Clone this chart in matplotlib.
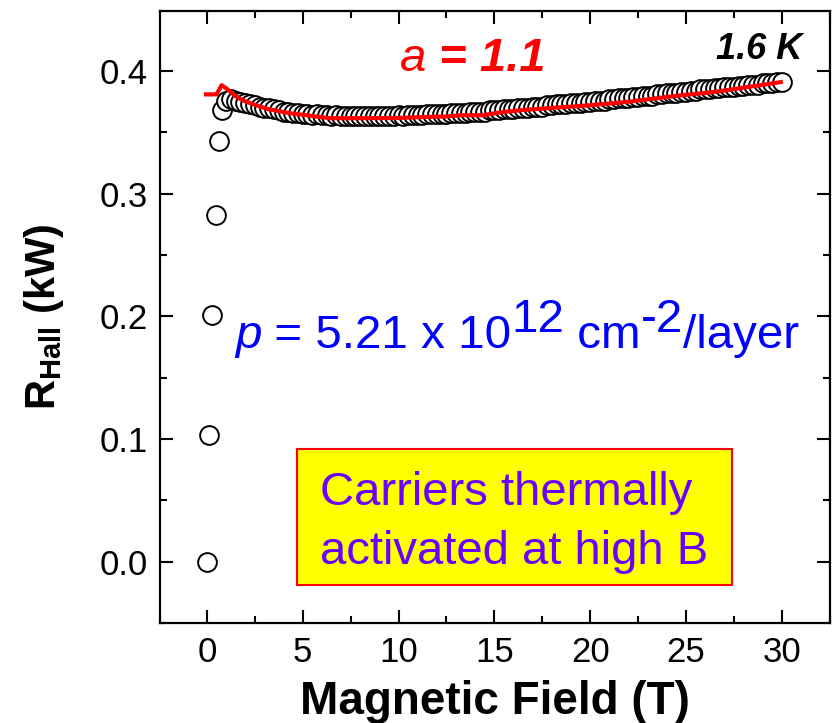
import numpy as np
import matplotlib.pyplot as plt
from matplotlib.patches import Rectangle
from matplotlib.ticker import MultipleLocator, FormatStrFormatter

plt.rcParams['font.family'] = 'Liberation Sans'
plt.rcParams['mathtext.fontset'] = 'custom'
plt.rcParams['mathtext.rm'] = 'Liberation Sans'
plt.rcParams['mathtext.bf'] = 'Liberation Sans:bold'
plt.rcParams['mathtext.it'] = 'Liberation Sans:italic'

# Hall resistance (kOhm) vs magnetic field (T), 1.6 K
field = [0.0, 0.1, 0.26, 0.47, 0.63, 0.78,
         1.00, 1.25, 1.50, 1.75, 2.00, 2.25, 2.50, 2.75, 3.00, 3.25,
         3.50, 3.75, 4.00, 4.25, 4.50, 4.75, 5.00, 5.25, 5.50, 5.75,
         6.00, 6.25, 6.50, 6.75, 7.00, 7.25, 7.50, 7.75, 8.00, 8.25,
         8.50, 8.75, 9.00, 9.25, 9.50, 9.75, 10.00, 10.25, 10.50, 10.75,
         11.00, 11.25, 11.50, 11.75, 12.00, 12.25, 12.50, 12.75, 13.00, 13.25,
         13.50, 13.75, 14.00, 14.25, 14.50, 14.75, 15.00, 15.25, 15.50, 15.75,
         16.00, 16.25, 16.50, 16.75, 17.00, 17.25, 17.50, 17.75, 18.00, 18.25,
         18.50, 18.75, 19.00, 19.25, 19.50, 19.75, 20.00, 20.25, 20.50, 20.75,
         21.00, 21.25, 21.50, 21.75, 22.00, 22.25, 22.50, 22.75, 23.00, 23.25,
         23.50, 23.75, 24.00, 24.25, 24.50, 24.75, 25.00, 25.25, 25.50, 25.75,
         26.00, 26.25, 26.50, 26.75, 27.00, 27.25, 27.50, 27.75, 28.00, 28.25,
         28.50, 28.75, 29.00, 29.25, 29.50, 29.75, 30.00]
r_hall = [0.000, 0.103, 0.201, 0.283, 0.343, 0.368,
          0.376, 0.377, 0.376, 0.375, 0.374, 0.373, 0.372, 0.371, 0.370, 0.370,
          0.369, 0.368, 0.367, 0.367, 0.366, 0.366, 0.365, 0.365, 0.364, 0.365,
          0.364, 0.364, 0.363, 0.364, 0.363, 0.363, 0.363, 0.363, 0.363, 0.363,
          0.363, 0.363, 0.363, 0.363, 0.363, 0.363, 0.364, 0.363, 0.364, 0.364,
          0.364, 0.364, 0.365, 0.365, 0.365, 0.365, 0.365, 0.366, 0.366, 0.366,
          0.366, 0.367, 0.367, 0.367, 0.367, 0.368, 0.368, 0.368, 0.369, 0.369,
          0.369, 0.370, 0.370, 0.370, 0.371, 0.371, 0.371, 0.372, 0.372, 0.373,
          0.373, 0.373, 0.374, 0.374, 0.374, 0.375, 0.375, 0.376, 0.376, 0.376,
          0.377, 0.377, 0.378, 0.378, 0.378, 0.379, 0.379, 0.380, 0.380, 0.380,
          0.381, 0.381, 0.382, 0.382, 0.382, 0.383, 0.383, 0.384, 0.384, 0.385,
          0.385, 0.385, 0.386, 0.386, 0.387, 0.387, 0.387, 0.388, 0.388, 0.389,
          0.389, 0.389, 0.390, 0.390, 0.390, 0.391, 0.391]

# fitted curve
fit_field = [-0.05, 0.5, 0.77, 1.0, 1.55, 1.9, 2.5, 3.2, 4.3, 5.2, 6.4, 8.0, 10.0,
             11.25, 12.5, 13.3, 14.4, 15.3, 16.3, 18.0, 19.9, 22.0, 24.6, 26.5, 28.1, 29.95]
fit_r = [0.381, 0.381, 0.3885, 0.386, 0.379, 0.376, 0.3725, 0.369, 0.3657, 0.364, 0.3616,
         0.3616, 0.3618, 0.3625, 0.363, 0.364, 0.364, 0.3663, 0.368, 0.370, 0.372, 0.375,
         0.380, 0.383, 0.3867, 0.391]

fig = plt.figure(figsize=(8.33, 7.23), dpi=100)
ax = fig.add_axes([0.192, 0.1383, 0.804, 0.8465])

ax.plot(field, r_hall, 'o', ms=13.5, mfc='white', mec='black', mew=1.4, ls='none')
ax.plot(fit_field, fit_r, color='red', lw=3)

ax.set_xlim(-2.45, 32.5)
ax.set_ylim(-0.05, 0.449)
ax.xaxis.set_major_locator(MultipleLocator(5))
ax.xaxis.set_minor_locator(MultipleLocator(2.5))
ax.yaxis.set_major_locator(MultipleLocator(0.1))
ax.yaxis.set_minor_locator(MultipleLocator(0.05))
ax.yaxis.set_major_formatter(FormatStrFormatter('%.1f'))
ax.tick_params(which='both', direction='in', top=True, right=True, width=1.5)
ax.tick_params(which='major', length=9.5, labelsize=25, pad=9)
ax.tick_params(which='minor', length=5)
for s in ax.spines.values():
    s.set_linewidth(1.6)

ax.set_xlabel('Magnetic Field (T)', fontsize=33, fontweight='bold', labelpad=8)
ax.set_ylabel(r'$\mathbf{R_{Hall}}$ (kW)', fontsize=30, fontweight='bold', labelpad=24)


def chain(x, y, parts):
    # parts: (text, props, raise in points); each piece starts where the last ended
    t = ax.text(x, y, parts[0][0], ha='left', va='baseline', **parts[0][1])
    prev = t
    for txt, props, dy in parts[1:]:
        prev = ax.annotate(txt, xy=(1, 0), xycoords=prev, xytext=(0, dy),
                           textcoords='offset points', ha='left', va='bottom', **props)
    return t


red_it = dict(color='red', fontsize=34, style='italic')
red_bi = dict(color='red', fontsize=34, style='italic', fontweight='bold')
chain(10.05, 0.400, [('a', red_it, 0), (' = 1.1', red_bi, 0)])

ax.text(31.1, 0.410, '1.6 K', fontsize=26, style='italic', fontweight='bold',
        ha='right', va='baseline', color='black')

blue = dict(color='#0000ff', fontsize=34.2)
blue_it = dict(color='#0000ff', fontsize=34.2, style='italic')
chain(1.46, 0.174, [('p', blue_it, 0), (' = 5.21 x 10', blue, 0), ('12', blue, 12),
                    (' cm', blue, -12), ('-2', blue, 12), ('/layer', blue, -12)])

ax.add_patch(Rectangle((4.69, -0.0188), 22.7, 0.111, facecolor='#ffff00',
                       edgecolor='red', lw=1.5, zorder=3))
ax.text(5.89, 0.0465, 'Carriers thermally', fontsize=34, color='#6a00ff',
        ha='left', va='baseline', zorder=4)
ax.text(5.89, -0.0016, 'activated at high B', fontsize=34, color='#6a00ff',
        ha='left', va='baseline', zorder=4)

fig.savefig('out.png', dpi=100)
